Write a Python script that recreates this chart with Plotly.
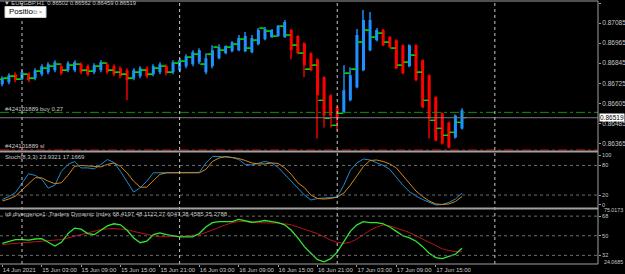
import plotly.graph_objects as go

W, H = 625, 274
def py(ypx):  # paper y from pixel row
    return 1 - ypx / H

# ---- data ----
hours = list(range(-3, 68))  # hours since 15 Jun 2021 00:00 (H1 bars)
ha_open = [0.86719,0.86731,0.86779,0.86749,0.86779,0.86755,0.86779,0.86791,0.86803,0.86827,
           0.86803,0.86803,0.86839,0.86827,0.86791,0.86803,0.86839,0.86827,0.86815,0.86803,
           0.86755,0.86767,0.86815,0.86779,0.86791,0.86827,0.86791,0.86803,0.86827,0.86839,
           0.86851,0.86791,0.86827,0.86875,0.86905,0.86917,0.86923,0.86917,0.86911,0.86959,
           0.86989,0.87001,0.87007,0.87001,0.87043,0.87007,0.86965,0.86905,0.86869,0.86761,
           0.86653,0.86581,0.86551,0.86623,0.86701,0.86803,0.86923,0.86983,0.87043,0.87001,
           0.86983,0.86953,0.86827,0.86953,0.86863,0.86773,0.86641,0.86545,0.86491,0.86401,
           0.86455]
ha_close = [0.86755,0.86773,0.86743,0.86791,0.86743,0.86803,0.86827,0.86839,0.86851,0.86785,
            0.86845,0.86851,0.86791,0.86779,0.86833,0.86851,0.86791,0.86779,0.86767,0.86743,
            0.86803,0.86815,0.86767,0.86827,0.86839,0.86785,0.86851,0.86863,0.86887,0.86911,
            0.86923,0.86875,0.86923,0.86941,0.86947,0.86971,0.86995,0.87007,0.86995,0.87043,
            0.87049,0.87043,0.87067,0.87091,0.86923,0.86905,0.86833,0.86803,0.86653,0.86533,
            0.86533,0.86515,0.86683,0.86773,0.87013,0.87103,0.87103,0.87043,0.86953,0.86941,
            0.86815,0.86785,0.86953,0.86743,0.86581,0.86515,0.86383,0.86365,0.86341,0.86533,
            0.86563]
ha_high = [0.86767,0.86785,0.86791,0.86803,0.86791,0.86815,0.86839,0.86851,0.86863,0.86845,
           0.86857,0.86863,0.86851,0.86839,0.86845,0.86863,0.86851,0.86839,0.86827,0.86815,
           0.86815,0.86827,0.86827,0.86839,0.86851,0.86839,0.86863,0.86875,0.86899,0.86923,
           0.86935,0.86905,0.86953,0.86959,0.86953,0.86977,0.87013,0.87031,0.87013,0.87055,
           0.87061,0.87049,0.87073,0.87103,0.87049,0.87013,0.86971,0.86911,0.86875,0.86767,
           0.86659,0.86587,0.86833,0.86821,0.87049,0.87163,0.87151,0.87055,0.87049,0.87007,
           0.86989,0.86959,0.86959,0.86959,0.86869,0.86779,0.86647,0.86551,0.86497,0.86539,
           0.86575]
ha_low = [0.86707,0.86719,0.86731,0.86743,0.86731,0.86743,0.86767,0.86779,0.86791,0.86773,
          0.86791,0.86791,0.86779,0.86767,0.86779,0.86791,0.86779,0.86767,0.86755,0.86623,
          0.86743,0.86755,0.86755,0.86767,0.86779,0.86773,0.86779,0.86791,0.86815,0.86827,
          0.86839,0.86779,0.86815,0.86869,0.86899,0.86911,0.86917,0.86911,0.86905,0.86953,
          0.86983,0.86995,0.87001,0.86995,0.86869,0.86899,0.86761,0.86797,0.86395,0.86461,
          0.86461,0.86443,0.86545,0.86617,0.86695,0.86797,0.86917,0.86977,0.86947,0.86935,
          0.86809,0.86779,0.86821,0.86737,0.86575,0.86395,0.86377,0.86359,0.86335,0.86395,
          0.86449]
# actual bar open / close ticks (green)
bar_open = [0.86749,0.86755,0.86767,0.86749,0.86779,0.86755,0.86797,0.86815,0.86827,0.86839,
            0.86803,0.86833,0.86839,0.86803,0.86797,0.86827,0.86845,0.86803,0.86791,0.86779,
            0.86755,0.86791,0.86803,0.86779,0.86815,0.86827,0.86791,0.86845,0.86857,0.86881,
            0.86899,0.86839,0.86899,0.86941,0.86923,0.86941,0.86959,0.86989,0.86935,0.86983,
            0.87055,0.87037,0.87007,0.87067,0.87013,0.86953,0.86905,0.86809,0.86833,0.86623,
            0.86515,0.86473,0.86545,0.86785,0.86809,0.86971,0.87043,0.87001,0.87025,0.86971,
            0.86935,0.86833,0.86851,0.86893,0.86791,0.86623,0.86503,0.86455,0.86413,0.86431,
            0.86491]
bar_close = [0.86755,0.86767,0.86749,0.86779,0.86755,0.86797,0.86815,0.86827,0.86839,0.86803,
             0.86833,0.86839,0.86803,0.86797,0.86827,0.86845,0.86803,0.86791,0.86779,0.86755,
             0.86791,0.86803,0.86779,0.86815,0.86827,0.86791,0.86845,0.86857,0.86881,0.86899,
             0.86839,0.86899,0.86941,0.86923,0.86941,0.86959,0.86989,0.86935,0.86983,0.87055,
             0.87037,0.87007,0.87067,0.87013,0.86953,0.86905,0.86809,0.86833,0.86623,0.86515,
             0.86473,0.86545,0.86785,0.86809,0.86971,0.87043,0.87001,0.87025,0.86971,0.86935,
             0.86833,0.86851,0.86893,0.86791,0.86623,0.86503,0.86455,0.86413,0.86431,0.86491,
             0.86519]

stoch_main = [11,17,25,44,63,60,52,34,40,68,82,88,75,75,73,82,92,86,68,47,26,35,48,65,65,65,65,65,
              65,65,66,85,98,98,97,96,92,82,81,84,88,85,76,62,48,32,20,10,13,14,15,16,40,70,85,93,
              91,86,80,72,55,40,27,18,11,5,0,1,5,12,24]
stoch_signal = [8,12,18,30,43,55,55,48,43,45,60,78,80,79,77,77,82,85,78,65,48,36,36,48,62,65,65,65,
                65,65,65,72,88,95,98,96,94,90,85,83,83,85,84,75,62,45,35,20,13,12,13,16,24,40,60,78,
                90,91,88,83,75,60,45,28,17,8,2,1,2,7,17]
tdi_green = [43,45,46.5,46.5,46,47,47.3,44,40.5,44,52,57,56,52,51,55,59,61,60,55,48,43.6,45,51,52.7,
             51,50,49,49,49,52,58,62,63,63,63,65,64,62.4,63,64,63,62,60,55,48,40,34,28,26,29,35,45,
             54,60,63,62,62,61,58,54,50,48,45,40,34,30,29,31,33,38.5]
tdi_red = [42,42.5,43,43.6,44,44.3,44.6,45,45.5,46.5,48,49.5,51,52,54,55.7,56.3,56.6,56.2,55.5,54,
           52.5,51,50,49,49,49.3,49.5,49.8,50.2,51,53,55.5,58,60,62,63,63,62,62,62,62,61.5,61,60,58,
           56,54,52,49,46,44,43,44,47,51,55,58,60,59,57,55,53,50,47,44,41,38,36.5,35.5,35.3]

price_ticks = [0.87205, 0.87085, 0.86965, 0.86845, 0.86725, 0.86605, 0.86485, 0.86365]
time_tick_hours = [-3, 3, 9, 15, 21, 27, 33, 39, 45, 51, 57, 63]
time_tick_labels = ["14 Jun 2021", "15 Jun 03:00", "15 Jun 09:00", "15 Jun 15:00", "15 Jun 21:00",
                    "16 Jun 03:00", "16 Jun 09:00", "16 Jun 15:00", "16 Jun 21:00",
                    "17 Jun 03:00", "17 Jun 09:00", "17 Jun 15:00"]
separator_hours = [0, 24, 48, 72]
bid = 0.86519
buy_level = 0.86551
sl_level = 0.86327
stoch_levels = [80, 20]
tdi_levels = [68, 50, 32]
tdi_max, tdi_min = 75.0173, 24.0685

# ---- figure ----
BLUE, RED = "#1e90ff", "#ff0000"
BLUE_W, RED_W = "#1668b5", "#b00000"
GREEN_T = "#00d800"
FONT = "Liberation Sans"
TXT = "#c8c8c8"

fig = go.Figure()
wick_cols = [BLUE_W if c >= o else RED_W for o, c in zip(ha_open, ha_close)]
body_cols = [BLUE if c >= o else RED for o, c in zip(ha_open, ha_close)]
fig.add_trace(go.Bar(x=hours, base=ha_low, y=[h - l for h, l in zip(ha_high, ha_low)],
                     width=0.16, marker=dict(color=wick_cols, line=dict(width=0)),
                     xaxis="x", yaxis="y", hoverinfo="skip"))
fig.add_trace(go.Bar(x=hours, base=[min(o, c) for o, c in zip(ha_open, ha_close)],
                     y=[max(abs(c - o), 0.00004) for o, c in zip(ha_open, ha_close)],
                     width=0.46, marker=dict(color=body_cols, line=dict(width=0)),
                     xaxis="x", yaxis="y", hoverinfo="skip"))
fig.add_trace(go.Scatter(x=[h - 0.42 for h in hours], y=bar_open, mode="markers",
                         marker=dict(symbol="line-ew", size=3, line=dict(color=GREEN_T, width=1.3)),
                         xaxis="x", yaxis="y", hoverinfo="skip"))
fig.add_trace(go.Scatter(x=[h + 0.42 for h in hours], y=bar_close, mode="markers",
                         marker=dict(symbol="line-ew", size=3, line=dict(color=GREEN_T, width=1.3)),
                         xaxis="x", yaxis="y", hoverinfo="skip"))

fig.add_trace(go.Scatter(x=hours, y=stoch_main, mode="lines", line=dict(color="#1d8ccb", width=1),
                         xaxis="x", yaxis="y2"))
fig.add_trace(go.Scatter(x=hours, y=stoch_signal, mode="lines", line=dict(color="#d4891c", width=1),
                         xaxis="x", yaxis="y2"))
fig.add_trace(go.Scatter(x=hours, y=tdi_red, mode="lines", line=dict(color="#b41414", width=1),
                         xaxis="x", yaxis="y3"))
fig.add_trace(go.Scatter(x=hours, y=tdi_green, mode="lines", line=dict(color="#32e632", width=1.3),
                         xaxis="x", yaxis="y3"))

XR = 598 / W
shapes = []
for lv in stoch_levels:
    shapes.append(dict(type="line", xref="paper", yref="y2", x0=0, x1=XR, y0=lv, y1=lv,
                       line=dict(color="#6e6e6e", width=1, dash="dot")))
for lv in tdi_levels:
    shapes.append(dict(type="line", xref="paper", yref="y3", x0=0, x1=XR, y0=lv, y1=lv,
                       line=dict(color="#6e6e6e", width=1, dash="dot")))
shapes.append(dict(type="line", xref="paper", yref="y", x0=0, x1=XR, y0=buy_level, y1=buy_level,
                   line=dict(color="#009a00", width=1, dash="dashdot")))
shapes.append(dict(type="line", xref="paper", yref="y", x0=0, x1=XR, y0=sl_level, y1=sl_level,
                   line=dict(color="#c00000", width=1, dash="dashdot")))
shapes.append(dict(type="line", xref="paper", yref="y", x0=0, x1=XR, y0=bid, y1=bid,
                   line=dict(color="#7a7a7a", width=1)))
for s in separator_hours:
    shapes.append(dict(type="line", xref="x", yref="paper", x0=s, x1=s, y0=py(264), y1=py(1),
                       line=dict(color="#c8c8c8", width=1, dash="dot")))
for ypx, wdt in [(1, 1), (151.5, 2), (208.5, 2), (264, 1)]:
    shapes.append(dict(type="line", xref="paper", yref="paper", x0=0, x1=XR, y0=py(ypx), y1=py(ypx),
                       line=dict(color="#a0a0a0", width=wdt)))
shapes.append(dict(type="line", xref="paper", yref="paper", x0=XR, x1=XR, y0=py(264), y1=py(1),
                   line=dict(color="#a0a0a0", width=1)))
shapes.append(dict(type="rect", xref="paper", yref="paper", x0=5 / W, x1=46 / W, y0=py(17.5), y1=py(6.5),
                   fillcolor="#ffffff", line=dict(color="#d0d0d0", width=1)))

ann = []
def text(xpx, ypx, s, size=6, color=TXT, anchor="left", bg=None):
    d = dict(xref="paper", yref="paper", x=xpx / W, y=py(ypx), text=s, showarrow=False,
             xanchor=anchor, yanchor="middle", font=dict(family=FONT, size=size, color=color))
    if bg:
        d.update(bgcolor=bg, borderpad=0)
    ann.append(d)

text(2, 3.2, "▼ EURGBP,H1  0.86502 0.86562 0.86459 0.86519", size=5.8)
text(7, 12, "Positio", size=8, color="#000000")
text(31, 12, "⧉ ×", size=6, color="#808080")
text(3, 108.5, "#424101889 buy 0.27", size=6)
text(3, 145.5, "#424101889 sl", size=6)
text(3, 156.5, "Stoch(8,3,3) 23.9321 17.1669", size=6)
text(3, 213.5, "tdi divergence1: Traders Dynamic Index 68.4197 48.1122 27.6047 38.4585 35.2788", size=6)
ann.append(dict(xref="paper", yref="y", x=599 / W, y=bid, text="0.86519", showarrow=False,
                xanchor="left", yanchor="middle", bgcolor="#ffffff", borderpad=0,
                font=dict(family=FONT, size=6.5, color="#000000")))
text(602, 210.3, f"{tdi_max:.4f}", size=5.3)
text(602, 262, f"{tdi_min:.4f}", size=5.3)

axfont = dict(family=FONT, size=6, color=TXT)
yfont = dict(family=FONT, size=6.5, color=TXT)
fig.update_layout(
    width=W, height=H, margin=dict(l=0, r=0, t=0, b=0),
    paper_bgcolor="#000000", plot_bgcolor="#000000", showlegend=False, barmode="overlay",
    xaxis=dict(domain=[0, XR], range=[-3.35, 87.71], anchor="y3", tickvals=time_tick_hours,
               ticktext=time_tick_labels, tickfont=axfont, tickangle=0, ticklabelposition="outside right",
               ticks="outside", ticklen=2, tickcolor="#a0a0a0", showgrid=False, zeroline=False,
               showline=False),
    yaxis=dict(domain=[py(151.5), py(1)], range=[0.86317, 0.87217], side="right", anchor="x",
               tickvals=price_ticks, ticktext=[f"{v:.5f}" for v in price_ticks], tickfont=yfont,
               ticks="outside", ticklen=2, tickcolor="#a0a0a0", showgrid=False, zeroline=False),
    yaxis2=dict(domain=[py(208.5), py(151.5)], range=[-7.2, 108.2], side="right", anchor="x",
                tickvals=[100, 80, 20, 0], tickfont=dict(family=FONT, size=5.5, color=TXT),
                ticks="outside", ticklen=2, tickcolor="#a0a0a0", showgrid=False, zeroline=False),
    yaxis3=dict(domain=[py(264), py(208.5)], range=[24.07, 75.02], side="right", anchor="x",
                tickvals=tdi_levels, tickfont=dict(family=FONT, size=5.5, color=TXT),
                ticks="outside", ticklen=2, tickcolor="#a0a0a0", showgrid=False, zeroline=False),
    shapes=shapes, annotations=ann,
)
fig.write_html("out.html")
